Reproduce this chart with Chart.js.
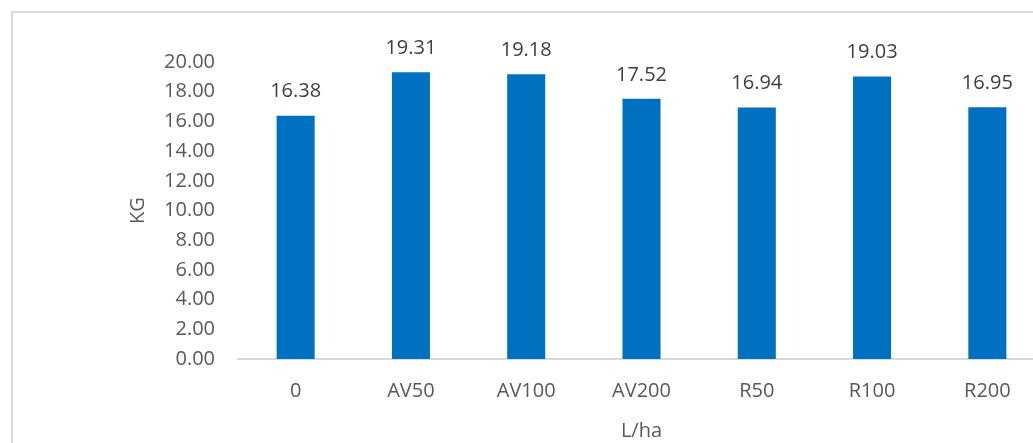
<!DOCTYPE html>
<html>
<head>
<meta charset="utf-8">
<script src="https://cdn.jsdelivr.net/npm/chart.js@4/dist/chart.umd.min.js"></script>
<style>
  html, body { margin: 0; padding: 0; background: #fff; overflow: hidden; }
  #wrap { position: relative; width: 1033px; height: 443px; overflow: hidden; }
  #frame { position: absolute; left: 11px; top: 11px; width: 1100px; height: 500px;
           border: 2px solid #d9d9d9; box-sizing: border-box; }
  #c { position: absolute; left: 0; top: 0; }
</style>
</head>
<body>
<div id="wrap">
  <div id="frame"></div>
  <canvas id="c" width="1048" height="443"></canvas>
</div>
<script>
// Treatments and mean yield per treatment
const categories = ['0', 'AV50', 'AV100', 'AV200', 'R50', 'R100', 'R200'];
const yieldKg = [16.38, 19.31, 19.18, 17.52, 16.94, 19.03, 16.95];
const yTicks = [0, 2, 4, 6, 8, 10, 12, 14, 16, 18, 20];

const FONT = '"Open Sans", "Liberation Sans", sans-serif';

// Writes each bar's value above it, positioned by the chart's own scales
const valueLabels = {
  id: 'valueLabels',
  afterDatasetsDraw(chart) {
    const { ctx } = chart;
    const meta = chart.getDatasetMeta(0);
    const yScale = chart.scales.y;
    ctx.save();
    ctx.font = '20px ' + FONT;
    ctx.fillStyle = '#404040';
    ctx.textAlign = 'center';
    ctx.textBaseline = 'middle';
    meta.data.forEach((bar, i) => {
      const v = yieldKg[i];
      ctx.fillText(v.toFixed(2), bar.x, yScale.getPixelForValue(v) - 24);
    });
    ctx.restore();
  }
};

new Chart(document.getElementById('c'), {
  type: 'bar',
  data: {
    labels: categories,
    datasets: [{
      data: yieldKg,
      backgroundColor: '#0070C0',
      borderWidth: 0,
      barPercentage: 0.33,
      categoryPercentage: 1.0
    }]
  },
  options: {
    responsive: false,
    animation: false,
    layout: { padding: { left: 126, right: 3, top: 62, bottom: 0 } },
    plugins: { legend: { display: false }, tooltip: { enabled: false } },
    scales: {
      x: {
        grid: { display: false, drawTicks: false },
        border: { display: true, color: '#d9d9d9', width: 2 },
        ticks: { color: '#595959', font: { family: FONT, size: 20 }, padding: 20 },
        title: { display: true, text: 'L/ha', color: '#595959',
                 font: { family: FONT, size: 20 }, padding: { top: 4, bottom: 0 } },
        afterFit(scale) { scale.height = 84; }
      },
      y: {
        min: 0, max: 20,
        afterBuildTicks(scale) { scale.ticks = yTicks.map(v => ({ value: v })); },
        grid: { display: false, drawTicks: false },
        border: { display: false },
        ticks: { color: '#595959', font: { family: FONT, size: 20 }, padding: 23,
                 callback: v => Number(v).toFixed(2) },
        title: { display: true, text: 'KG', color: '#595959',
                 font: { family: FONT, size: 20 }, padding: { top: 0, bottom: 0 } },
        afterFit(scale) { scale.width = 112; }
      }
    }
  },
  plugins: [valueLabels]
});
</script>
</body>
</html>
